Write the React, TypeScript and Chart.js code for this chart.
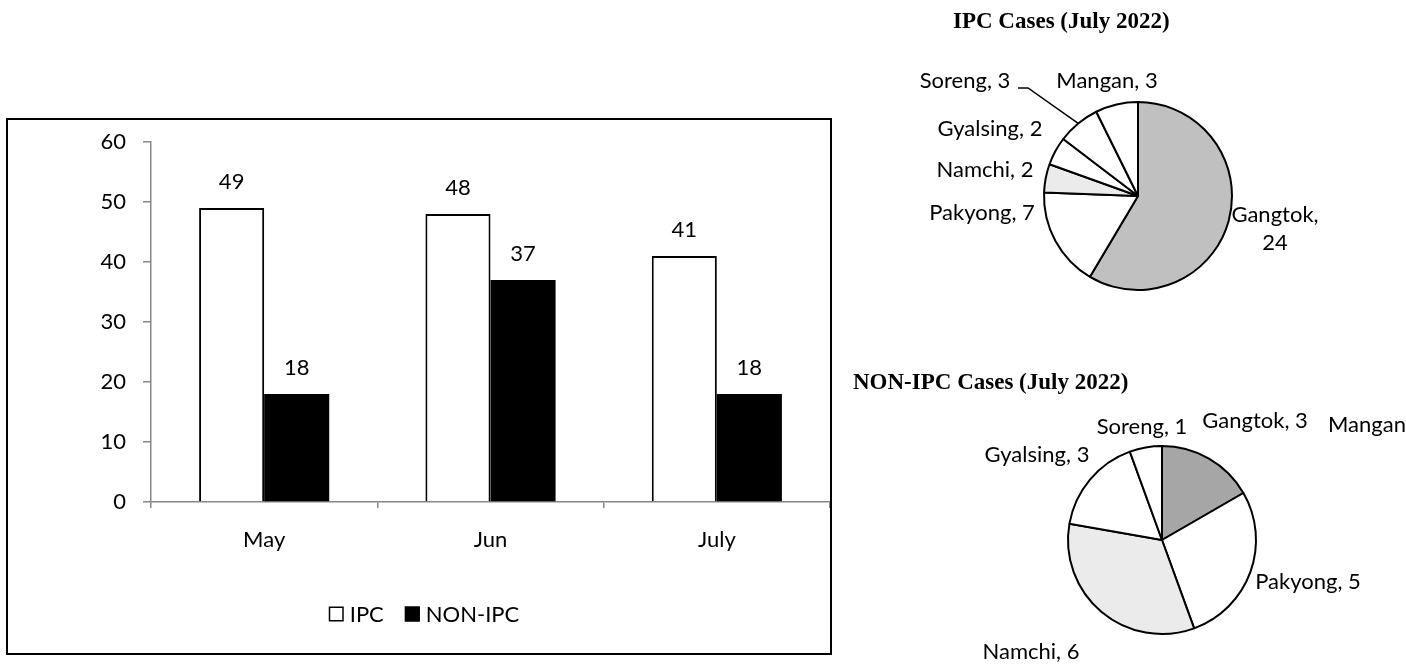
import React, { useEffect, useRef } from "react";
import { Chart, registerables } from "chart.js";

Chart.register(...registerables);

// ---------- data ----------
const months = ["May", "Jun", "July"];
const seriesNames = ["IPC", "NON-IPC"];
const ipcValues = [49, 48, 41];
const nonIpcValues = [18, 37, 18];
const yMin = 0;
const yMax = 60;
const yStep = 10;

const districts = ["Gangtok", "Pakyong", "Namchi", "Gyalsing", "Soreng", "Mangan"];
const ipcJuly = [24, 7, 2, 2, 3, 3];
const nonIpcJuly = [3, 5, 6, 3, 1, 0];
const ipcPieTitle = "IPC Cases (July 2022)";
const nonIpcPieTitle = "NON-IPC Cases (July 2022)";

// ---------- style ----------
const FONT = "Lato, 'Open Sans', sans-serif";
const TITLE_FONT = "bold 23px 'Liberation Serif', 'Times New Roman', serif";
const AXIS_GRAY = "#868686";

const ipcPieColors = ["#c0c0c0", "#ffffff", "#ebebeb", "#ffffff", "#ffffff", "#ffffff"];
const nonIpcPieColors = ["#a6a6a6", "#ffffff", "#ebebeb", "#ffffff", "#ffffff", "#ffffff"];

type LabelPos = { dx: number; dy: number; align?: CanvasTextAlign; split?: boolean; leader?: number[][] };

// label placement relative to pie centre (text centre)
const ipcPieLabelPos: LabelPos[] = [
  { dx: 137, dy: 19, split: true },
  { dx: -156, dy: 17 },
  { dx: -153, dy: -26 },
  { dx: -148, dy: -67 },
  { dx: -173, dy: -115, leader: [[-120, -108], [-110, -108]] },
  { dx: -31, dy: -115 },
];
const nonIpcPieLabelPos: LabelPos[] = [
  { dx: 93, dy: -119 },
  { dx: 146, dy: 42 },
  { dx: -131, dy: 112 },
  { dx: -125, dy: -85 },
  { dx: -20, dy: -113 },
  { dx: 166, dy: -115, align: "left" },
];

// ---------- plugins ----------
const valueLabelPlugin = {
  id: "valueLabels",
  afterDatasetsDraw(chart: any) {
    const ctx = chart.ctx;
    ctx.save();
    ctx.font = `22px ${FONT}`;
    ctx.fillStyle = "#000";
    ctx.textAlign = "center";
    ctx.textBaseline = "middle";
    chart.data.datasets.forEach((ds: any, di: number) => {
      const meta = chart.getDatasetMeta(di);
      meta.data.forEach((bar: any, i: number) => {
        ctx.fillText(String(ds.data[i]), bar.x, bar.y - 26);
      });
    });
    ctx.restore();
  },
};

const LEGEND_CENTER_X = 424;
const LEGEND_Y = 504;
const barLegendPlugin = {
  id: "barLegend",
  afterDraw(chart: any) {
    const ctx = chart.ctx;
    ctx.save();
    ctx.font = `22px ${FONT}`;
    ctx.textBaseline = "middle";
    ctx.textAlign = "left";
    const box = 15;
    const gapText = 6;
    const gapItem = 21;
    const items = chart.data.datasets.map((ds: any) => ({
      label: ds.label,
      fill: ds.backgroundColor,
      stroke: ds.borderColor,
    }));
    const widths = items.map((it: any) => box + gapText + ctx.measureText(it.label).width);
    const total = widths.reduce((a: number, b: number) => a + b, 0) + gapItem * (items.length - 1);
    let x = LEGEND_CENTER_X - total / 2;
    items.forEach((it: any, i: number) => {
      ctx.fillStyle = it.fill;
      ctx.fillRect(x, LEGEND_Y - box / 2, box, box);
      ctx.strokeStyle = "#000";
      ctx.lineWidth = 1.5;
      ctx.strokeRect(x + 0.75, LEGEND_Y - box / 2 + 0.75, box - 1.5, box - 1.5);
      ctx.fillStyle = "#000";
      ctx.fillText(it.label, x + box + gapText, LEGEND_Y + 1);
      x += widths[i] + gapItem;
    });
    ctx.restore();
  },
};

const pieDecorPlugin = {
  id: "pieDecor",
  afterDraw(chart: any) {
    const opts = chart.options.plugins.pieDecor;
    if (!opts) return;
    const ctx = chart.ctx;
    ctx.save();
    // title
    ctx.font = TITLE_FONT;
    ctx.fillStyle = "#000";
    ctx.textAlign = "left";
    ctx.textBaseline = "middle";
    ctx.fillText(opts.title, opts.titleX, opts.titleY);
    // labels
    const meta = chart.getDatasetMeta(0);
    const ds = chart.data.datasets[0];
    ctx.font = `22px ${FONT}`;
    meta.data.forEach((arc: any, i: number) => {
      const pos: LabelPos = opts.labels[i];
      const cx = arc.x;
      const cy = arc.y;
      const name = chart.data.labels[i];
      const val = ds.data[i];
      ctx.textAlign = pos.align || "center";
      ctx.fillStyle = "#000";
      if (pos.split) {
        ctx.fillText(`${name},`, cx + pos.dx, cy + pos.dy);
        ctx.fillText(String(val), cx + pos.dx, cy + pos.dy + 28);
      } else {
        ctx.fillText(`${name}, ${val}`, cx + pos.dx, cy + pos.dy);
      }
      if (pos.leader) {
        const mid = (arc.startAngle + arc.endAngle) / 2;
        const ex = cx + arc.outerRadius * Math.cos(mid);
        const ey = cy + arc.outerRadius * Math.sin(mid);
        ctx.beginPath();
        ctx.strokeStyle = "#000";
        ctx.lineWidth = 1.5;
        pos.leader.forEach((p, k) => {
          if (k === 0) ctx.moveTo(cx + p[0], cy + p[1]);
          else ctx.lineTo(cx + p[0], cy + p[1]);
        });
        ctx.lineTo(ex, ey);
        ctx.stroke();
      }
    });
    ctx.restore();
  },
};

// ---------- components ----------
function BarChart() {
  const ref = useRef<HTMLCanvasElement>(null);
  useEffect(() => {
    if (!ref.current) return;
    const chart = new Chart(ref.current, {
      type: "bar",
      data: {
        labels: months,
        datasets: [
          {
            label: seriesNames[0],
            data: ipcValues,
            backgroundColor: "#ffffff",
            borderColor: "#000000",
            borderWidth: 2,
          },
          {
            label: seriesNames[1],
            data: nonIpcValues,
            backgroundColor: "#000000",
            borderColor: "#000000",
            borderWidth: 0,
          },
        ],
      },
      options: {
        responsive: false,
        animation: false,
        devicePixelRatio: 1,
        layout: { padding: { top: 32, right: 10, left: 0, bottom: 0 } },
        datasets: { bar: { categoryPercentage: 0.575, barPercentage: 1 } },
        plugins: { legend: { display: false }, tooltip: { enabled: false }, title: { display: false } },
        scales: {
          x: {
            offset: true,
            grid: { offset: true, drawOnChartArea: false, drawTicks: true, tickLength: 6, color: AXIS_GRAY, lineWidth: 1.5 },
            border: { display: true, color: AXIS_GRAY, width: 1.5 },
            ticks: { color: "#000", font: { family: FONT, size: 22 }, padding: 19 },
            afterFit: (s: any) => { s.height = 162; },
          },
          y: {
            min: yMin,
            max: yMax,
            ticks: { stepSize: yStep, color: "#000", font: { family: FONT, size: 22 }, padding: 17 },
            grid: { drawOnChartArea: false, drawTicks: true, tickLength: 8, color: AXIS_GRAY, lineWidth: 1.5 },
            border: { display: true, color: AXIS_GRAY, width: 1.5 },
            afterFit: (s: any) => { s.width = 151; },
          },
        },
      },
      plugins: [valueLabelPlugin, barLegendPlugin],
    } as any);
    return () => chart.destroy();
  }, []);
  return (
    <canvas
      ref={ref}
      width={840}
      height={554}
      style={{ position: "absolute", left: 0, top: 110, width: 840, height: 554 }}
    />
  );
}

function PieChart(props: {
  values: number[];
  colors: string[];
  title: string;
  titleX: number;
  titleY: number;
  labels: LabelPos[];
  left: number;
  top: number;
  width: number;
  height: number;
  padding: { left: number; top: number; right: number; bottom: number };
}) {
  const ref = useRef<HTMLCanvasElement>(null);
  useEffect(() => {
    if (!ref.current) return;
    const chart = new Chart(ref.current, {
      type: "pie",
      data: {
        labels: districts,
        datasets: [
          {
            data: props.values,
            backgroundColor: props.colors,
            borderColor: "#000000",
            borderWidth: 2,
          },
        ],
      },
      options: {
        responsive: false,
        animation: false,
        devicePixelRatio: 1,
        radius: 94,
        layout: { padding: props.padding },
        plugins: {
          legend: { display: false },
          tooltip: { enabled: false },
          pieDecor: {
            title: props.title,
            titleX: props.titleX,
            titleY: props.titleY,
            labels: props.labels,
          },
        },
      },
      plugins: [pieDecorPlugin],
    } as any);
    return () => chart.destroy();
  }, []);
  return (
    <canvas
      ref={ref}
      width={props.width}
      height={props.height}
      style={{ position: "absolute", left: props.left, top: props.top, width: props.width, height: props.height }}
    />
  );
}

export default function App() {
  return (
    <div
      style={{
        position: "absolute",
        left: 0,
        top: 0,
        width: 1406,
        height: 664,
        background: "#ffffff",
        overflow: "hidden",
      }}
    >
      <BarChart />
      <div
        style={{
          position: "absolute",
          left: 6,
          top: 118,
          width: 826,
          height: 537,
          border: "2px solid #000",
          boxSizing: "border-box",
          pointerEvents: "none",
        }}
      />
      <PieChart
        values={ipcJuly}
        colors={ipcPieColors}
        title={ipcPieTitle}
        titleX={113}
        titleY={22}
        labels={ipcPieLabelPos}
        left={840}
        top={0}
        width={566}
        height={330}
        padding={{ left: 30, top: 62, right: 0, bottom: 0 }}
      />
      <PieChart
        values={nonIpcJuly}
        colors={nonIpcPieColors}
        title={nonIpcPieTitle}
        titleX={13}
        titleY={53}
        labels={nonIpcPieLabelPos}
        left={840}
        top={330}
        width={566}
        height={334}
        padding={{ left: 78, top: 86, right: 0, bottom: 0 }}
      />
    </div>
  );
}
